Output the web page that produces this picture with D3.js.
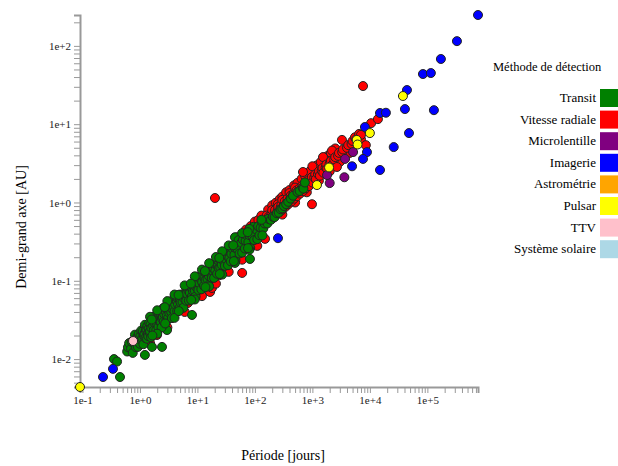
<!DOCTYPE html>
<html>
<head>
<meta charset="utf-8">
<script src="https://d3js.org/d3.v7.min.js"></script>
<style>
  body { margin: 0; background: #fff; }
  svg { font-family: "Liberation Serif", "DejaVu Serif", serif; }
  .axis path { stroke: #999; stroke-width: 2; fill: none; }
  .axis line { stroke: #999; }
  .axis text { fill: #222; font-size: 11px; font-family: "Liberation Serif", serif; }
</style>
</head>
<body>
<div id="chart"></div>
<script>
// [période (jours), demi-grand axe (AU)]
const vitesseRadiale = [
  [1.33,0.0175],[1.98,0.0203],[2.2,0.027],[2.9,0.031],[3.3,0.038],[3.5,0.045],[4.2,0.040],[4.6,0.050],
  [5.2,0.046],[6.0,0.060],[6.8,0.052],[7.5,0.068],[8.8,0.064],[9.5,0.080],[11,0.074],[12.5,0.094],
  [14,0.085],[16.6,0.072],[17.9,0.081],[20,0.125],[24,0.118],[28,0.158],[32,0.150],[36,0.190],
  [42,0.180],[48,0.230],[55,0.215],[60,0.126],[63,0.285],[72,0.260],[80,0.330],[95,0.330],
  [110,0.410],[120,0.55],[125,0.400],[140,0.49],[20.2,1.14],
  [1.5,0.016],[3,0.0253],[6,0.040],[12,0.0637],[21,0.092],[35,0.130],[60,0.186],[110,0.279],[150,0.343],
  [50,0.36],[70,0.45],[85,0.50],[100,0.57],[115,0.60],[130,0.68],[170,0.81],[200,0.92],[230,0.99],
  [270,1.10],[300,1.19],[350,1.35],[400,1.44],[480,1.65],[550,1.78],[650,2.0],[750,2.18],[900,2.5],
  [1200,2.98],[1400,3.3],[1800,3.9],[2100,4.3],[2500,4.9],
  [300,0.70],[500,1.0],[800,1.35],[1300,1.9],[2000,2.5],[3000,3.3],[4500,4.3],
  [150,0.55],[155,0.62],[160,0.68],[170,0.60],[175,0.66],[190,0.66],[195,0.72],[200,0.62],[200,0.80],
  [220,0.74],[225,0.80],[230,0.69],[250,0.80],[250,0.95],[255,0.88],[262,0.75],
  [280,0.86],[290,0.95],[295,0.80],[300,1.08],[320,0.94],[330,1.03],[340,0.88],
  [360,1.00],[370,1.12],[380,0.95],[400,1.32],[410,1.10],[420,1.22],[430,1.03],
  [460,1.19],[470,1.30],[480,1.12],[500,1.55],[520,1.30],[530,1.42],[540,1.20],
  [580,1.40],[600,1.52],[610,1.30],[650,1.50],[670,1.65],[686,2.45],[690,1.40],
  [730,1.62],[750,1.78],[770,1.52],[820,1.75],[850,1.92],[870,1.62],
  [950,1.92],[980,2.10],[984,0.95],[1000,1.80],[1000,2.9],[1080,2.08],[1120,2.28],[1150,1.98],
  [1250,2.30],[1300,2.50],[1350,2.20],[1450,2.55],[1500,2.75],[1530,3.8],[1550,2.40],
  [1700,2.80],[1750,3.05],[1800,2.70],[2000,3.15],[2100,3.40],[2200,3.00],[2200,4.6],
  [2400,3.55],[2500,3.80],[2670,2.84],[2800,3.95],[2900,4.30],[3270,6.3],[3300,4.40],[3400,4.75],
  [4000,5.00],[4200,5.40],[4800,5.60],[5000,6.10],[5500,6.8],[5800,6.40],[6500,7.5],[7000,6.4],
  [7000,7.30],[8500,5.4],[10500,10.3],[13800,11.6],[7600,30.7]
];

const transit = [
  [0.354,0.0100],[0.40,0.0093],[0.45,0.0059],[0.645,0.0127],[1.22,0.0113],[1.62,0.0143],[2.42,0.0143],
  [2.96,0.0235],[8.05,0.0366],[45,0.36],[82,0.19],
  [0.6,0.0125],[0.62,0.0142],[0.65,0.0160],[0.7,0.0136],[0.72,0.0166],[0.75,0.0120],
  [0.8,0.0161],[0.82,0.0205],[0.85,0.0142],[0.9,0.0190],[0.92,0.0143],[0.95,0.0209],
  [1.0,0.0157],[1.02,0.0196],[1.05,0.0231],[1.07,0.0175],[1.1,0.0184],[1.12,0.0226],[1.15,0.0155],[1.17,0.0200],
  [1.2,0.0210],[1.22,0.0274],[1.25,0.0186],[1.27,0.0232],[1.3,0.0242],[1.33,0.0182],[1.35,0.0266],[1.37,0.0210],
  [1.4,0.0196],[1.42,0.0245],[1.45,0.0289],[1.47,0.0220],[1.5,0.0226],[1.53,0.0278],[1.56,0.0190],[1.58,0.0250],
  [1.7,0.0265],[1.73,0.0346],[1.76,0.0234],[1.79,0.0290],[1.9,0.0313],[1.93,0.0235],[1.96,0.0343],[1.99,0.0280],
  [2.1,0.0257],[2.14,0.0321],[2.18,0.0379],[2.22,0.0300],[2.3,0.0301],[2.34,0.0369],[2.38,0.0253],[2.42,0.0330],
  [2.5,0.0343],[2.55,0.0448],[2.6,0.0303],[2.65,0.0375],[2.8,0.0405],[2.85,0.0303],[2.9,0.0443],[2.95,0.0360],
  [3.1,0.0334],[3.15,0.0417],[3.2,0.0492],[3.25,0.0390],[3.5,0.0398],[3.55,0.0488],[3.6,0.0334],[3.65,0.0440],
  [3.9,0.0462],[3.95,0.0603],[4.0,0.0408],[4.1,0.0500],[4.4,0.0547],[4.45,0.0410],[4.5,0.0600],[4.6,0.0500],
  [4.9,0.0452],[4.95,0.0565],[5.0,0.0667],[5.1,0.0530],[5.5,0.0538],[5.6,0.0660],[5.7,0.0452],[5.8,0.0600],
  [6.2,0.0629],[6.3,0.0821],[6.4,0.0556],[6.5,0.0690],[7.0,0.0746],[7.1,0.0559],[7.2,0.0817],[7.4,0.0700],
  [8.0,0.0627],[8.1,0.0784],[8.2,0.0925],[8.4,0.0740],[9.0,0.0746],[9.2,0.0916],[9.3,0.0628],[9.5,0.0830],
  [10,0.0865],[10.2,0.113],[10.4,0.0764],[10.6,0.094],[11.5,0.104],[11.7,0.0779],[11.9,0.114],[12.1,0.096],
  [13,0.0864],[13.3,0.108],[13.6,0.127],[13.9,0.102],[15,0.105],[15.3,0.129],[15.6,0.088],[15.9,0.115],
  [17,0.124],[17.4,0.161],[17.8,0.109],[18.2,0.135],[19,0.146],[19.5,0.109],[20,0.160],[20.5,0.135],
  [22,0.123],[22.5,0.154],[23,0.182],[23.5,0.145],[25,0.148],[25.5,0.181],[26,0.124],[26.5,0.160],
  [29,0.176],[29.5,0.229],[30,0.155],[31,0.190],[33,0.210],[34,0.158],[35,0.230],[36,0.195],
  [38,0.177],[39,0.221],[40,0.261],[44,0.215],[45,0.264],[46,0.181],[50,0.253],[52,0.330],[54,0.223],
  [58,0.306],[60,0.229],[62,0.335],[67,0.258],[69,0.323],[72,0.381],[77,0.312],[80,0.383],[83,0.263],
  [90,0.374],[94,0.489],[97,0.331],[105,0.453],[110,0.340],[114,0.497],[120,0.382],[126,0.477],[132,0.563],
  [140,0.465],[148,0.540],[165,0.540],[172,0.620],[190,0.600],[205,0.660],[220,0.650],[240,0.730],
  [260,0.740],[280,0.820],[300,0.840],[320,0.900],[350,0.95],[380,1.02],[420,1.12],[460,1.22],
  [550,1.36],[600,1.40],[680,1.55],[700,1.50],[740,1.80],
  [1.5,0.0347],[2.0,0.042],[3.0,0.055],[4.0,0.0667],[6.0,0.0873],[9.0,0.114],[12,0.139],[16,0.168],
  [21,0.201],[27,0.238],[35,0.283],[60,0.406],[80,0.46],
  [2,0.0211],[4,0.0336],[9,0.0577],[16,0.0847],[27,0.120],[45,0.169],[80,0.248],
  [1.6,0.032],[1.65,0.020],[2.7,0.046],[2.75,0.0285],[4.7,0.066],[4.75,0.041],[7.7,0.092],[7.8,0.057],
  [13.5,0.133],[13.8,0.083],[24,0.196],[24.5,0.122],[42,0.284],[43,0.178],[75,0.418],[76,0.261],
  [130,0.60],[135,0.38]
];

const microlentille = [[5100,4.4],[3700,3.6],[3600,2.1],[2000,1.77],[1800,2.24]];

const imagerie = [
  [0.228,0.0059],[0.34,0.0075],[252,0.35],
  [15000,13.9],[19000,14],[8200,9.2],[8900,4.4],[26000,5.1],[7600,3.6],[4900,2.9],[15000,2.6],
  [760000,248],[327000,115],[172000,68],[83800,43.7],[115000,45],[44200,27.3],[40700,15.6],
  [130000,15.1],[47900,7.7]
];

const astrometrie = [];

const pulsar = [[0.0907,0.0044],[1200,1.67],[1950,2.8],[5900,6.3],[6100,5.5],[10000,7.7],[37600,22.9]];

const ttv = [[0.76,0.017]];

const systemeSolaire = [];

const methodes = ["Transit", "Vitesse radiale", "Microlentille", "Imagerie", "Astrométrie", "Pulsar", "TTV", "Système solaire"];
const couleurs = ["green", "red", "purple", "blue", "orange", "yellow", "pink", "lightblue"];

// ordre de dessin : vitesse radiale d'abord, le transit par dessus
const series = [
  { name: "Vitesse radiale", data: vitesseRadiale },
  { name: "Transit", data: transit },
  { name: "Astrométrie", data: astrometrie },
  { name: "Microlentille", data: microlentille },
  { name: "Imagerie", data: imagerie },
  { name: "Pulsar", data: pulsar },
  { name: "TTV", data: ttv },
  { name: "Système solaire", data: systemeSolaire }
];

const width = 618, height = 466;
const margin = { top: 15, left: 80, right: 140, bottom: 79 };

const color = d3.scaleOrdinal().domain(methodes).range(couleurs);

const points = [];
series.forEach(s => s.data.forEach(d => points.push({ p: d[0], a: d[1], m: s.name })));

const x = d3.scaleLog()
  .domain(d3.extent(points, d => d.p))
  .range([margin.left, width - margin.right]);
const y = d3.scaleLog()
  .domain(d3.extent(points, d => d.a))
  .range([height - margin.bottom, margin.top]);

const svg = d3.select("#chart").append("svg")
  .attr("width", width)
  .attr("height", height);

// n'afficher que les puissances de 10
const fmt = d => {
  const l = Math.log10(d);
  return Math.abs(l - Math.round(l)) < 1e-9 ? d3.format(".0e")(d) : "";
};

svg.append("g")
  .attr("class", "axis")
  .attr("transform", `translate(0,${height - margin.bottom})`)
  .call(d3.axisBottom(x).tickFormat(fmt).tickSize(6));

svg.append("g")
  .attr("class", "axis")
  .attr("transform", `translate(${margin.left},0)`)
  .call(d3.axisLeft(y).tickFormat(fmt).tickSize(6));

svg.append("g")
  .selectAll("circle")
  .data(points)
  .enter().append("circle")
  .attr("cx", d => x(d.p))
  .attr("cy", d => y(d.a))
  .attr("r", 4.5)
  .attr("fill", d => color(d.m))
  .attr("stroke", "#222")
  .attr("stroke-width", 1);

// titres des axes
svg.append("text")
  .attr("x", 283)
  .attr("y", 460)
  .attr("text-anchor", "middle")
  .attr("font-size", "14px")
  .text("Période [jours]");

svg.append("text")
  .attr("transform", "translate(26,227) rotate(-90)")
  .attr("text-anchor", "middle")
  .attr("font-size", "14px")
  .text("Demi-grand axe [AU]");

// légende
const legend = svg.append("g");
legend.append("text")
  .attr("x", 493)
  .attr("y", 71)
  .attr("font-size", "12.5px")
  .text("Méthode de détection");

const item = legend.selectAll("g.item")
  .data(methodes)
  .enter().append("g")
  .attr("class", "item")
  .attr("transform", (d, i) => `translate(0,${89 + i * 21.6})`);

item.append("rect")
  .attr("x", 600)
  .attr("width", 18)
  .attr("height", 18)
  .attr("fill", d => color(d));

item.append("text")
  .attr("x", 596)
  .attr("y", 13)
  .attr("text-anchor", "end")
  .attr("font-size", "13px")
  .text(d => d);
</script>
</body>
</html>
